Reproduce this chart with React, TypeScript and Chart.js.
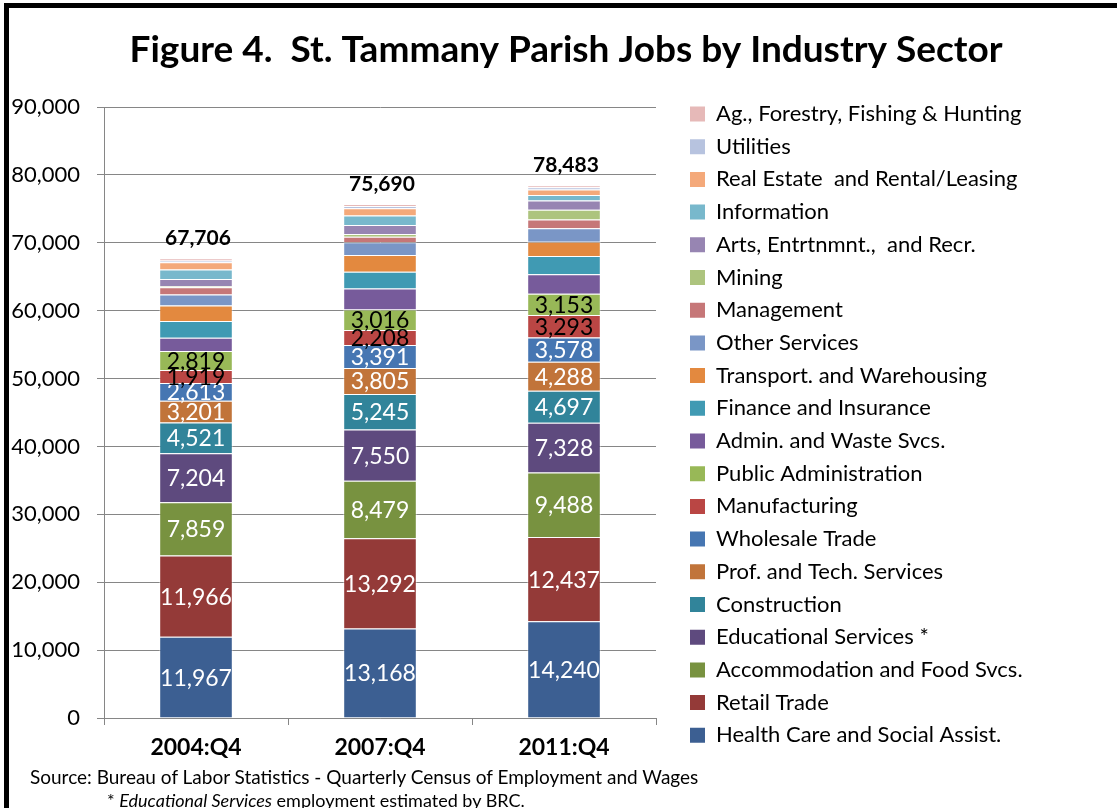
import React, { useEffect, useRef } from 'react';
import { Chart, registerables } from 'chart.js';

Chart.register(...registerables);

// ---------- data ----------
const categories = ['2004:Q4', '2007:Q4', '2011:Q4'];

const healthCare = [11967, 13168, 14240];
const retailTrade = [11966, 13292, 12437];
const accommodationFood = [7859, 8479, 9488];
const educationalServices = [7204, 7550, 7328];
const construction = [4521, 5245, 4697];
const profTech = [3201, 3805, 4288];
const wholesaleTrade = [2613, 3391, 3578];
const manufacturing = [1919, 2208, 3293];
const publicAdministration = [2819, 3016, 3153];
const adminWaste = [1960, 3100, 2851];
const financeInsurance = [2440, 2460, 2690];
const transportWarehousing = [2290, 2470, 2120];
const otherServices = [1610, 1880, 1970];
const management = [1080, 840, 1300];
const mining = [150, 400, 1440];
const artsRecreation = [1080, 1330, 1350];
const information = [1370, 1380, 820];
const realEstate = [1070, 1090, 820];
const utilities = [280, 300, 320];
const agriculture = [307, 286, 300];

const yTickValues = [0, 10000, 20000, 30000, 40000, 50000, 60000, 70000, 80000, 90000];

// series in stacking order (bottom -> top)
const seriesLabels = [
  'Health Care and Social Assist.',
  'Retail Trade',
  'Accommodation and Food Svcs.',
  'Educational Services *',
  'Construction',
  'Prof. and Tech. Services',
  'Wholesale Trade',
  'Manufacturing',
  'Public Administration',
  'Admin. and Waste Svcs.',
  'Finance and Insurance',
  'Transport. and Warehousing',
  'Other Services',
  'Management',
  'Mining',
  'Arts, Entrtnmnt.,  and Recr.',
  'Information',
  'Real Estate  and Rental/Leasing',
  'Utilities',
  'Ag., Forestry, Fishing & Hunting',
];
const seriesValues = [
  healthCare, retailTrade, accommodationFood, educationalServices, construction,
  profTech, wholesaleTrade, manufacturing, publicAdministration, adminWaste,
  financeInsurance, transportWarehousing, otherServices, management, mining,
  artsRecreation, information, realEstate, utilities, agriculture,
];
const seriesColors = [
  '#3C5F92', '#943A38', '#789240', '#5E4A7E', '#31849A',
  '#C1743A', '#4676B2', '#BA4644', '#98B857', '#775B9B',
  '#409AB3', '#E3893F', '#7A96C6', '#C67778', '#ADC47E',
  '#9785B2', '#78B8CC', '#F4A97A', '#B7C3DF', '#E6B9B8',
];
// number of bottom series that carry value labels
const LABELED_COUNT = 9;
const DARK_LABEL_SERIES = [7, 8];

// ---------- layout constants ----------
const W = 1117;
const H = 808;
const CHART_LEFT = 104;
const CHART_RIGHT = 656;
const CHART_BOTTOM = 718;
const TITLE_CENTER_X = 566;
const LEGEND_FONT = 22;
const LEGEND_PAD = 10.7;
const LEGEND_BOX_W = 15;
const LEGEND_BOX_H = 15;
const LEGEND_BOX_X = 690;
const PAD_LEFT = 4;
const FONT = 'Lato';

export default function App() {
  const canvasRef = useRef<HTMLCanvasElement>(null);

  useEffect(() => {
    const canvas = canvasRef.current;
    if (!canvas) return;
    const mctx = canvas.getContext('2d')!;
    mctx.font = `${LEGEND_FONT}px ${FONT}`;
    const maxText = Math.max(...seriesLabels.map((l) => mctx.measureText(l).width));
    const legendWidth = LEGEND_PAD + LEGEND_BOX_W + LEGEND_FONT / 2 + maxText + 10;
    const legendLeft = LEGEND_BOX_X - LEGEND_PAD;
    const padRight = Math.max(0, W - legendLeft - legendWidth);

    const titleShiftPlugin = {
      id: 'titleShift',
      afterLayout(chart: any) {
        const t = chart.titleBlock;
        if (!t) return;
        const shift = TITLE_CENTER_X - (t.left + t.right) / 2;
        t.left += shift;
        t.right += shift;
      },
    };

    const labelPlugin = {
      id: 'segmentLabels',
      afterDatasetsDraw(chart: any) {
        const ctx = chart.ctx;
        ctx.save();
        ctx.textAlign = 'center';
        ctx.textBaseline = 'middle';
        ctx.font = `23px ${FONT}`;
        for (let di = 0; di < LABELED_COUNT; di++) {
          const meta = chart.getDatasetMeta(di);
          meta.data.forEach((bar: any, i: number) => {
            const v = chart.data.datasets[di].data[i] as number;
            ctx.fillStyle = DARK_LABEL_SERIES.includes(di) ? '#000000' : '#FFFFFF';
            ctx.fillText(v.toLocaleString('en-US'), bar.x, (bar.y + bar.base) / 2 + 1);
          });
        }
        ctx.font = `bold 21px ${FONT}`;
        ctx.fillStyle = '#000000';
        const topMeta = chart.getDatasetMeta(chart.data.datasets.length - 1);
        categories.forEach((_, i) => {
          const total = chart.data.datasets.reduce((a: number, d: any) => a + (d.data[i] as number), 0);
          const bar: any = topMeta.data[i];
          ctx.fillText(total.toLocaleString('en-US'), bar.x + 2, bar.y - 20);
        });
        ctx.restore();
      },
    };

    const chart = new Chart(canvas, {
      type: 'bar',
      data: {
        labels: categories,
        datasets: seriesLabels.map((label, i) => ({
          label,
          data: seriesValues[i],
          backgroundColor: seriesColors[i],
          borderColor: 'rgba(255,255,255,0.45)',
          borderWidth: 1,
          categoryPercentage: 1,
          barPercentage: 0.4,
          yAxisID: 'y',
        })),
      },
      options: {
        responsive: false,
        animation: false,
        devicePixelRatio: 1,
        layout: { padding: { left: PAD_LEFT, right: padRight, top: 0, bottom: 0 } },
        plugins: {
          title: {
            display: true,
            text: 'Figure 4.  St. Tammany Parish Jobs by Industry Sector',
            color: '#000000',
            font: { family: FONT, size: 37, weight: 'bold', lineHeight: 1.2 },
            padding: { top: 28, bottom: 34.6 },
          },
          legend: {
            display: true,
            position: 'right',
            align: 'start',
            reverse: true,
            maxWidth: 600,
            title: { display: true, text: '', font: { size: 10, lineHeight: 1 }, padding: { top: 82.3, bottom: 0 } },
            labels: {
              color: '#000000',
              font: { family: FONT, size: LEGEND_FONT },
              boxWidth: LEGEND_BOX_W,
              boxHeight: LEGEND_BOX_H,
              padding: LEGEND_PAD,
              generateLabels: (c: any) =>
                Chart.defaults.plugins.legend.labels.generateLabels(c).map((it: any) => ({ ...it, lineWidth: 0 })),
            },
          },
          tooltip: { enabled: false },
        },
        scales: {
          x: {
            stacked: true,
            grid: { display: true, drawOnChartArea: false, tickLength: 7, color: '#868686', offset: true },
            border: { display: true, color: '#868686', width: 1 },
            ticks: { color: '#000000', font: { family: FONT, size: 23, weight: 'bold' }, padding: 9 },
            afterFit: (s: any) => { s.height = H - CHART_BOTTOM; },
          },
          y: {
            stacked: true,
            min: 0,
            max: 90000,
            afterBuildTicks: (s: any) => { s.ticks = yTickValues.map((v) => ({ value: v })); },
            grid: { display: true, drawOnChartArea: true, tickLength: 7, color: '#868686', lineWidth: 1 },
            border: { display: true, color: '#868686', width: 1 },
            ticks: {
              color: '#000000',
              font: { family: FONT, size: 22 },
              padding: 17,
              callback: (v: any) => Number(v).toLocaleString('en-US'),
            },
            afterFit: (s: any) => { s.width = CHART_LEFT - PAD_LEFT; },
          },
          yGap: {
            position: 'right',
            display: true,
            grid: { display: false },
            border: { display: false },
            ticks: { display: false },
            afterFit: (s: any) => { s.width = legendLeft - CHART_RIGHT; },
          },
        },
      } as any,
      plugins: [titleShiftPlugin, labelPlugin],
    });
    return () => chart.destroy();
  }, []);

  return (
    <div style={{ position: 'absolute', left: 0, top: 0, width: W, height: H, background: '#FFFFFF', overflow: 'hidden' }}>
      <canvas ref={canvasRef} width={W} height={H} style={{ position: 'absolute', left: 0, top: 0, width: W, height: H }} />
      <div style={{ position: 'absolute', left: 4, top: 3, width: W - 4, height: 5, background: '#000' }} />
      <div style={{ position: 'absolute', left: 4, top: 3, width: 5, height: H - 3, background: '#000' }} />
      <div style={{ position: 'absolute', left: 30, top: 767, font: `19px ${FONT}`, lineHeight: '20px', whiteSpace: 'nowrap', color: '#000' }}>
        Source: Bureau of Labor Statistics - Quarterly Census of Employment and Wages
      </div>
      <div style={{ position: 'absolute', left: 107, top: 790, font: `18px ${FONT}`, lineHeight: '20px', whiteSpace: 'nowrap', color: '#000' }}>
        * <i>Educational Services</i> employment estimated by BRC.
      </div>
    </div>
  );
}
